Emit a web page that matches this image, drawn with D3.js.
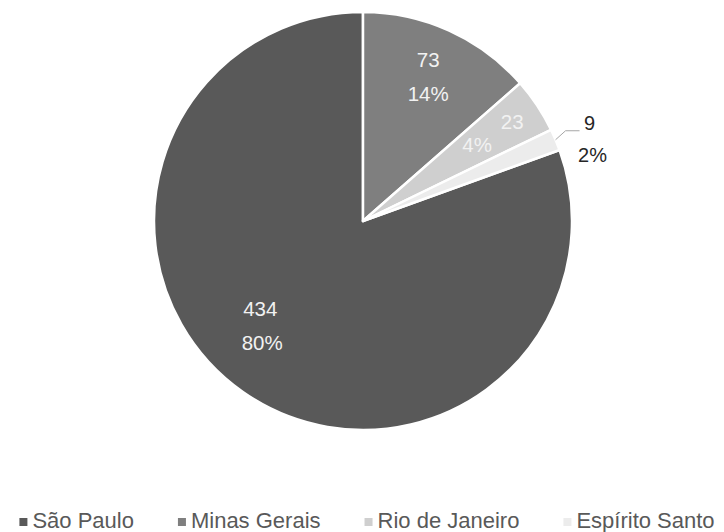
<!DOCTYPE html>
<html lang="en">
<head>
<meta charset="UTF-8">
<script src="https://d3js.org/d3.v7.min.js"></script>
<style>
  body { margin: 0; background: #fff; }
  text { font-family: "Liberation Sans", Arial, sans-serif; }
</style>
</head>
<body>
<div id="plot"></div>
<script>
// data
const states = ["São Paulo", "Minas Gerais", "Rio de Janeiro", "Espírito Santo"];
const counts = [434, 73, 23, 9];
const colors = ["#595959", "#7f7f7f", "#cfcfcf", "#ececec"];

const width = 724, height = 532;
const cx = 363, cy = 221, radius = 209;

const svg = d3.select("#plot")
  .append("svg")
    .attr("width", width)
    .attr("height", height);

const total = d3.sum(counts);
const data = states.map((s, i) => ({state: s, value: counts[i], color: colors[i]}));

// percentages that add up to 100 (largest remainder, like Excel shows them)
const raw = counts.map(v => 100 * v / total);
const pcts = raw.map(Math.floor);
let left = 100 - d3.sum(pcts);
d3.range(raw.length)
  .sort((a, b) => (raw[b] - pcts[b]) - (raw[a] - pcts[a]))
  .forEach(i => { if (left > 0) { pcts[i] += 1; left--; } });
data.forEach((d, i) => d.pct = pcts[i] + "%");

// first slice (São Paulo) is rotated so the others start at 12 o'clock
const start = 2 * Math.PI * (total - counts[0]) / total;
const pie = d3.pie().value(d => d.value).sort(null)
  .startAngle(start).endAngle(start + 2 * Math.PI);
const arcs = pie(data);

const arc = d3.arc().innerRadius(0).outerRadius(radius);
const g = svg.append("g").attr("transform", `translate(${cx},${cy})`);

g.selectAll("path")
  .data(arcs)
  .join("path")
    .attr("d", arc)
    .attr("fill", d => d.data.color)
    .attr("stroke", "#fff")
    .attr("stroke-width", 2.5)
    .attr("stroke-linejoin", "round");

const labelR = 158;

arcs.forEach(d => {
  const a = (d.startAngle + d.endAngle) / 2;
  const sx = Math.sin(a), sy = -Math.cos(a);
  const span = d.endAngle - d.startAngle;
  if (span > 0.2) {
    // inside label
    const x = labelR * sx, y = labelR * sy;
    const lab = g.append("g").attr("fill", "#f2f2f2").attr("font-size", 20.5).attr("text-anchor", "middle");
    if (span < 0.5) {
      // narrow slice: stack along the radius
      lab.append("text").attr("x", x + 21 * sx).attr("y", y + 21 * sy).attr("dy", "0.35em").text(d.data.value);
      lab.append("text").attr("x", x - 21 * sx).attr("y", y - 21 * sy).attr("dy", "0.35em").text(d.data.pct);
    } else if (span > Math.PI) {
      lab.append("text").attr("x", x - 12).attr("y", y - 41).attr("dy", "0.35em").text(d.data.value);
      lab.append("text").attr("x", x - 10).attr("y", y - 7).attr("dy", "0.35em").text(d.data.pct);
    } else {
      lab.append("text").attr("x", x).attr("y", y - 17).attr("dy", "0.35em").text(d.data.value);
      lab.append("text").attr("x", x).attr("y", y + 17).attr("dy", "0.35em").text(d.data.pct);
    }
  } else {
    // outside label with leader line
    const x0 = radius * sx, y0 = radius * sy;
    const x1 = x0 + 10, y1 = y0 - 9;
    const x2 = x1 + 14;
    g.append("path")
      .attr("d", `M${x0},${y0}L${x1},${y1}L${x2},${y1}`)
      .attr("fill", "none")
      .attr("stroke", "#a6a6a6")
      .attr("stroke-width", 1);
    const lab = g.append("g").attr("fill", "#262626").attr("font-size", 20).attr("text-anchor", "middle");
    lab.append("text").attr("x", x2 + 10).attr("y", y1 - 8).attr("dy", "0.35em").text(d.data.value);
    lab.append("text").attr("x", x2 + 13).attr("y", y1 + 24).attr("dy", "0.35em").text(d.data.pct);
  }
});

// legend
const legend = svg.append("g").attr("font-size", 22).attr("fill", "#595959");
const items = legend.selectAll("g").data(data).join("g");
items.append("rect")
  .attr("width", 8).attr("height", 8)
  .attr("y", -10)
  .attr("fill", d => d.color);
items.append("text")
  .attr("x", 13)
  .attr("y", 0)
  .text(d => d.state);

const gap = 44;
let xPos = 0;
const offsets = [];
items.each(function () {
  offsets.push(xPos);
  xPos += this.getBBox().width + gap;
});
const legendW = xPos - gap;
const lx = (width - legendW) / 2 + 5;
items.attr("transform", (d, i) => `translate(${lx + offsets[i]},528)`);
</script>
</body>
</html>
